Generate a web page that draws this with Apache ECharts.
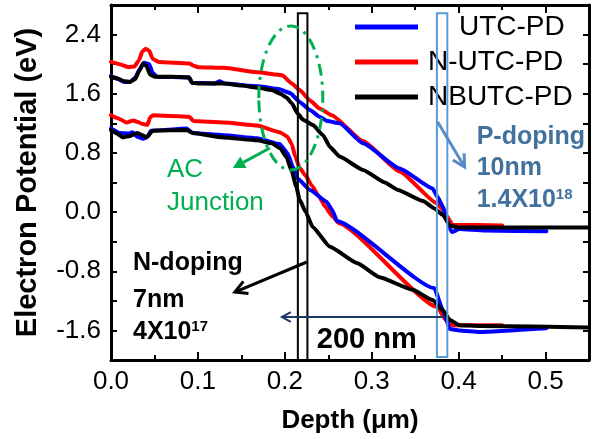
<!DOCTYPE html>
<html><head><meta charset="utf-8">
<script src="https://cdn.jsdelivr.net/npm/echarts@6/dist/echarts.min.js"></script>
<style>html,body{margin:0;padding:0;background:#fff}#c{width:596px;height:439px}</style>
</head><body><div id="c"></div>
<script>
// ---- data (depth in µm, potential in eV) ----
const deviceNames = ['UTC-PD', 'N-UTC-PD', 'NBUTC-PD'];
const deviceColors = ['#0000ff', '#ff0000', '#000000'];

const utcUpper = [[0,1.84],[0.008,1.80],[0.015,1.76],[0.022,1.76],[0.028,1.82],[0.033,1.93],[0.038,2.02],[0.044,2.00],[0.048,1.88],[0.053,1.83],[0.09,1.82],[0.093,1.75],[0.12,1.74],[0.125,1.77],[0.13,1.74],[0.17,1.70],[0.194,1.66],[0.206,1.61],[0.217,1.49],[0.229,1.38],[0.240,1.29],[0.249,1.23],[0.263,1.20],[0.290,0.93],[0.332,0.59],[0.370,0.32],[0.376,0.20],[0.382,0.07],[0.387,-0.13],[0.392,-0.27],[0.401,-0.23],[0.43,-0.25],[0.501,-0.26]];
const utcLower = [[0,1.13],[0.01,1.07],[0.02,1.06],[0.025,1.08],[0.03,1.02],[0.037,0.99],[0.042,1.02],[0.046,1.10],[0.087,1.13],[0.094,1.07],[0.129,1.04],[0.168,1.00],[0.194,0.92],[0.203,0.80],[0.209,0.62],[0.215,0.45],[0.229,0.30],[0.248,0.14],[0.254,0.04],[0.260,-0.12],[0.372,-1.03],[0.382,-1.33],[0.390,-1.58],[0.401,-1.60],[0.424,-1.62],[0.501,-1.57]];

const nutcUpper = [[0,2.03],[0.01,2.00],[0.02,1.96],[0.027,1.97],[0.032,2.05],[0.036,2.17],[0.040,2.21],[0.044,2.18],[0.048,2.07],[0.055,2.03],[0.09,2.01],[0.095,1.98],[0.10,1.96],[0.13,1.95],[0.168,1.89],[0.197,1.85],[0.208,1.74],[0.217,1.65],[0.229,1.51],[0.240,1.40],[0.254,1.31],[0.290,0.96],[0.332,0.55],[0.375,0.12],[0.382,0.03],[0.386,-0.05],[0.393,-0.17],[0.45,-0.18]];
const nutcLower = [[0,1.31],[0.008,1.27],[0.018,1.21],[0.026,1.24],[0.030,1.22],[0.037,1.19],[0.042,1.18],[0.045,1.28],[0.048,1.31],[0.09,1.29],[0.095,1.23],[0.13,1.21],[0.168,1.17],[0.194,1.08],[0.203,1.02],[0.208,0.92],[0.212,0.75],[0.217,0.60],[0.224,0.49],[0.231,0.36],[0.240,0.20],[0.246,0.08],[0.255,-0.06],[0.262,-0.15],[0.375,-1.28],[0.386,-1.47],[0.393,-1.53],[0.45,-1.53]];

const nbutcUpper = [[0,1.83],[0.007,1.81],[0.015,1.77],[0.022,1.76],[0.028,1.80],[0.032,1.90],[0.037,2.01],[0.041,1.97],[0.045,1.86],[0.05,1.83],[0.07,1.83],[0.09,1.82],[0.093,1.75],[0.10,1.74],[0.13,1.74],[0.15,1.71],[0.17,1.68],[0.185,1.65],[0.195,1.60],[0.202,1.55],[0.208,1.47],[0.215,1.33],[0.221,1.25],[0.232,1.18],[0.244,1.04],[0.252,0.88],[0.263,0.75],[0.29,0.57],[0.315,0.40],[0.33,0.30],[0.359,0.15],[0.372,0.05],[0.382,-0.04],[0.39,-0.18],[0.40,-0.21],[0.55,-0.21]];
const nbutcLower = [[0,1.11],[0.007,1.06],[0.014,1.01],[0.022,1.03],[0.030,1.07],[0.036,1.04],[0.041,1.01],[0.048,1.10],[0.087,1.11],[0.094,1.07],[0.129,1.01],[0.168,0.97],[0.185,0.93],[0.195,0.86],[0.202,0.74],[0.208,0.55],[0.213,0.35],[0.217,0.17],[0.224,0.0],[0.232,-0.2],[0.252,-0.47],[0.283,-0.69],[0.309,-0.88],[0.347,-1.05],[0.370,-1.19],[0.382,-1.33],[0.390,-1.46],[0.401,-1.53],[0.424,-1.54],[0.55,-1.56]];

const xRange = [0, 0.55];
const yRange = [-2.0, 2.8];
const xLabelStep = 0.1;
const yLabelStep = 0.8;

// doping regions (µm)
const nDopingRegion = [0.215, 0.226];
const pDopingRegion = [0.375, 0.387];

const chart = echarts.init(document.getElementById('c'), null, {renderer: 'canvas'});
const FONT = '"Liberation Sans", Arial, sans-serif';
const axisLine = {show: true, onZero: false, lineStyle: {color: '#000', width: 3}};
function isMult(v, step) { return Math.abs(v / step - Math.round(v / step)) < 1e-6; }

function mkSeries(name, color, data, z) {
  return {type: 'line', name: name, data: data, showSymbol: false, symbol: 'none',
    smooth: 0.15, smoothMonotone: 'x', z: z,
    lineStyle: {color: color, width: 4, join: 'round', cap: 'round'}, itemStyle: {color: color}};
}

const pads = {'UTC-PD': 'padL', 'N-UTC-PD': 'padS', 'NBUTC-PD': 'padS'};

chart.setOption({
  animation: false,
  backgroundColor: '#fff',
  grid: {left: 111, right: 7, top: 5, bottom: 79, containLabel: false},
  legend: {
    data: deviceNames, orient: 'vertical', left: 355, top: 13, padding: 0,
    icon: 'rect', itemWidth: 63, itemHeight: 5, itemGap: 7,
    formatter: n => '{' + pads[n] + '| }' + n,
    textStyle: {fontSize: 28, color: '#000', fontFamily: FONT,
      rich: {padL: {width: 36}, padS: {width: 5}}}
  },
  xAxis: [
    {type: 'value', min: xRange[0], max: xRange[1], interval: xLabelStep, position: 'bottom',
      axisLine: axisLine, splitLine: {show: false},
      axisTick: {inside: true, length: 8, lineStyle: {color: '#000', width: 2}},
      minorTick: {show: true, splitNumber: 2, length: 5, lineStyle: {color: '#000', width: 2}},
      axisLabel: {fontSize: 26, color: '#000', fontFamily: FONT, margin: 9,
        formatter: v => isMult(v, xLabelStep) ? v.toFixed(1) : ''},
      name: 'Depth (\u03bcm)', nameLocation: 'middle', nameGap: 48,
      nameTextStyle: {fontSize: 26, fontWeight: 'bold', color: '#000', fontFamily: FONT}},
    {type: 'value', min: xRange[0], max: xRange[1], interval: xLabelStep, position: 'top',
      axisLine: axisLine, splitLine: {show: false}, axisLabel: {show: false},
      axisTick: {inside: true, length: 8, lineStyle: {color: '#000', width: 2}},
      minorTick: {show: true, splitNumber: 2, length: 5, lineStyle: {color: '#000', width: 2}}}
  ],
  yAxis: [
    {type: 'value', min: yRange[0], max: yRange[1], interval: 0.4, position: 'left',
      axisLine: axisLine, splitLine: {show: false},
      axisTick: {inside: true, length: 6, lineStyle: {color: '#000', width: 2}},
      axisLabel: {fontSize: 26, color: '#000', fontFamily: FONT, margin: 10,
        formatter: v => isMult(v, yLabelStep) ? v.toFixed(1) : ''},
      name: 'Electron Potential (eV)', nameLocation: 'middle', nameGap: 69, nameRotate: 90,
      nameTextStyle: {fontSize: 29, fontWeight: 'bold', color: '#000', fontFamily: FONT}},
    {type: 'value', min: yRange[0], max: yRange[1], interval: 0.4, position: 'right',
      axisLine: axisLine, splitLine: {show: false}, axisLabel: {show: false},
      axisTick: {inside: true, length: 6, lineStyle: {color: '#000', width: 2}}}
  ],
  series: [
    mkSeries(deviceNames[1], deviceColors[1], nutcUpper, 2),
    mkSeries(deviceNames[1], deviceColors[1], nutcLower, 2),
    mkSeries(deviceNames[0], deviceColors[0], utcUpper, 3),
    mkSeries(deviceNames[0], deviceColors[0], utcLower, 3),
    mkSeries(deviceNames[2], deviceColors[2], nbutcUpper, 4),
    mkSeries(deviceNames[2], deviceColors[2], nbutcLower, 4)
  ]
});

// ---- annotations, placed in data coordinates ----
function px(d, v) { return chart.convertToPixel({xAxisIndex: 0, yAxisIndex: 0}, [d, v]); }
function arrow(a, b, color, w, head, filled) {
  const p0 = px(a[0], a[1]), p1 = px(b[0], b[1]);
  const ang = Math.atan2(p1[1] - p0[1], p1[0] - p0[0]);
  const c = Math.cos(ang), s = Math.sin(ang), nx = -s, ny = c;
  const hw = head * 0.55;
  const bx = p1[0] - head * c, by = p1[1] - head * s;
  const out = [];
  const endX = filled ? bx : p1[0], endY = filled ? by : p1[1];
  out.push({type: 'line', z: 100, silent: true, shape: {x1: p0[0], y1: p0[1], x2: endX, y2: endY},
    style: {stroke: color, lineWidth: w}});
  if (filled) {
    out.push({type: 'polygon', z: 100, silent: true,
      shape: {points: [[p1[0], p1[1]], [bx + nx * hw, by + ny * hw], [bx - nx * hw, by - ny * hw]]},
      style: {fill: color}});
  } else {
    out.push({type: 'polyline', z: 100, silent: true,
      shape: {points: [[bx + nx * hw, by + ny * hw], [p1[0], p1[1]], [bx - nx * hw, by - ny * hw]]},
      style: {stroke: color, lineWidth: w, fill: null, lineJoin: 'miter'}});
  }
  return out;
}
function text(d, v, str, font, color, rich) {
  const p = px(d, v);
  const st = {text: str, x: p[0], y: p[1], font: font, fill: color, align: 'left', verticalAlign: 'middle'};
  if (rich) st.rich = rich;
  return {type: 'text', z: 101, silent: true, style: st};
}
function rectRegion(r, vTop, vBot, color, w) {
  const a = px(r[0], vTop), b = px(r[1], vBot);
  return {type: 'rect', z: 99, silent: true, shape: {x: a[0], y: a[1], width: b[0] - a[0], height: b[1] - a[1]},
    style: {stroke: color, lineWidth: w, fill: null}};
}

const green = '#00B050', steel = '#41719C', steelArrow = '#5B8BC6', navy = '#1F3864';
const c0 = px(0.2069, 1.543), cR = px(0.2069 + 0.0368, 1.543 - 0.974);
const bold25 = 'bold 25px ' + FONT;
const g = [];
g.push(rectRegion(nDopingRegion, 2.69, -2.0, '#000', 2));
g.push(rectRegion(pDopingRegion, 2.69, -1.96, '#5B9BD5', 2));
g.push({type: 'ellipse', z: 100, silent: true,
  shape: {cx: c0[0], cy: c0[1], rx: cR[0] - c0[0], ry: cR[1] - c0[1]},
  style: {stroke: green, lineWidth: 3, fill: null, lineDash: [12, 6, 3, 6]}});
g.push(...arrow([0.1828, 0.866], [0.1402, 0.596], green, 3, 12, true));
g.push(text(0.0644, 0.569, 'AC', '26px ' + FONT, green));
g.push(text(0.0644, 0.123, 'Junction', '26px ' + FONT, green));
g.push(...arrow([0.2253, -0.675], [0.1425, -1.081], '#000', 3, 12, false));
g.push(text(0.0253, -0.688, 'N-doping', bold25, '#000'));
g.push(text(0.0253, -1.189, '7nm', bold25, '#000'));
g.push(text(0.0253, -1.621, '{m|4X10}{s|17}', bold25, '#000',
  {m: {font: bold25, fill: '#000'}, s: {font: 'bold 15px ' + FONT, fill: '#000', verticalAlign: 'top'}}));
g.push(...arrow([0.3759, 1.218], [0.4069, 0.610], steelArrow, 3, 12, false));
g.push(text(0.4207, 1.015, 'P-doping', bold25, steel));
g.push(text(0.4207, 0.596, '10nm', bold25, steel));
g.push(text(0.4207, 0.163, '{m|1.4X10}{s|18}', bold25, steel,
  {m: {font: bold25, fill: steel}, s: {font: 'bold 15px ' + FONT, fill: steel, verticalAlign: 'top'}}));
g.push(...arrow([0.3839, -1.419], [0.1966, -1.419], navy, 2, 9, false));
g.push(text(0.2368, -1.730, '200 nm', 'bold 29px ' + FONT, '#000'));
chart.setOption({graphic: g});
</script>
</body></html>
